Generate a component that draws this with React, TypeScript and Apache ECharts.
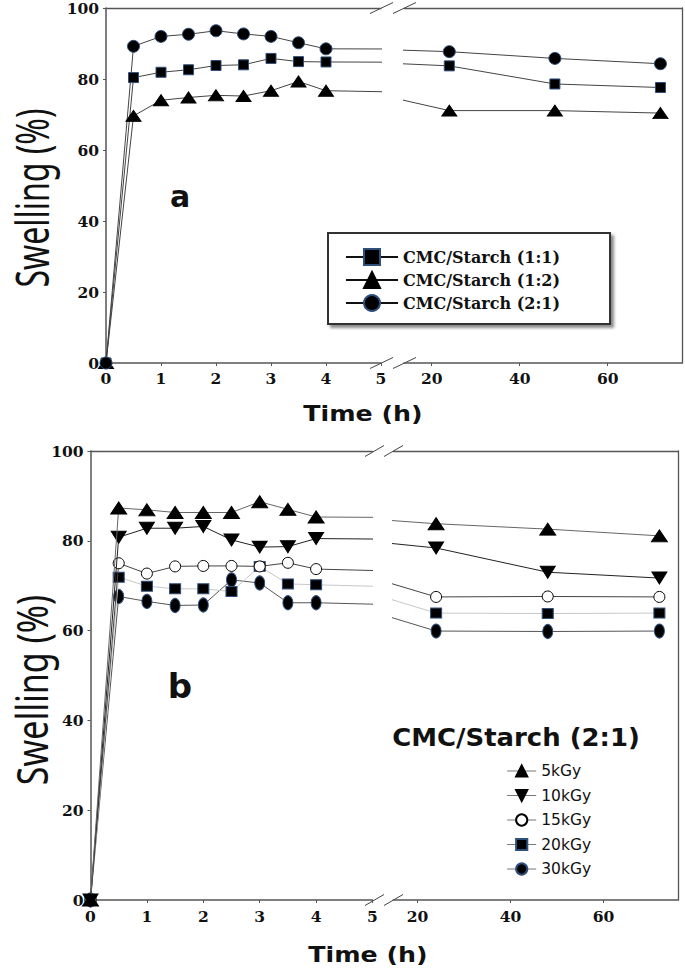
import { useEffect, useRef } from "react";
import * as echarts from "echarts";

// sampling times (h); the 4 h -> 24 h segment crosses the axis break
const hours = [0, 0.5, 1, 1.5, 2, 2.5, 3, 3.5, 4, 24, 48, 72];
const longTicks = [20, 40, 60];

// panel a
const namesA = ["CMC/Starch (1:1)", "CMC/Starch (1:2)", "CMC/Starch (2:1)"];
const ratio11 = [0, 80.4, 81.9, 82.6, 83.8, 84.0, 85.8, 84.9, 84.8, 83.7, 78.6, 77.6];
const ratio12 = [0, 69.6, 74.0, 74.8, 75.4, 75.2, 76.7, 79.3, 76.7, 71.1, 71.1, 70.4];
const ratio21 = [0, 89.2, 92.0, 92.6, 93.6, 92.7, 92.0, 90.2, 88.5, 87.7, 85.8, 84.3];

// panel b, CMC/Starch (2:1) at several doses
const namesB = ["5kGy", "10kGy", "15kGy", "20kGy", "30kGy"];
const dose5 = [0, 87.3, 86.9, 86.3, 86.3, 86.3, 88.7, 87.0, 85.3, 83.8, 82.6, 81.1];
const dose10 = [0, 80.8, 82.8, 82.8, 83.2, 80.2, 78.6, 78.7, 80.5, 78.4, 73.0, 71.7];
const dose15 = [0, 75.0, 72.7, 74.3, 74.4, 74.4, 74.3, 75.1, 73.7, 67.5, 67.6, 67.5];
const dose20 = [0, 71.9, 69.9, 69.3, 69.3, 68.7, 74.3, 70.4, 70.2, 63.9, 63.8, 63.9];
const dose30 = [0, 67.6, 66.5, 65.6, 65.7, 71.3, 70.6, 66.2, 66.2, 59.9, 59.8, 59.9];

const AXIS = "#555";
const BLUE_EDGE = "#2d4f7c";
const DOWN_TRI = "path://M0,0L10,0L5,9Z";

const tickFont = { fontFamily: "DejaVu Serif", fontWeight: "bold" as const, fontSize: 15.5, lineHeight: 12, color: "#111" };
const line = (w = 1.5) => ({ show: true, onZero: false, lineStyle: { color: AXIS, width: w } });

function bottomX(gridIndex: number, min: number, max: number, margin: number, custom?: number[]) {
  return {
    type: "value", gridIndex, min, max,
    ...(custom ? {} : { interval: 1 }),
    axisLine: line(),
    axisTick: { show: true, length: 3, lineStyle: { color: AXIS }, ...(custom ? { customValues: custom } : {}) },
    axisLabel: { ...tickFont, margin, ...(custom ? { customValues: custom } : {}) },
    splitLine: { show: false },
  };
}
function topX(gridIndex: number, min: number, max: number) {
  return {
    type: "value", gridIndex, min, max, position: "top",
    axisLine: line(1.3), axisTick: { show: false }, axisLabel: { show: false }, splitLine: { show: false },
  };
}
function leftY(gridIndex: number) {
  return {
    type: "value", gridIndex, min: 0, max: 100, interval: 20,
    axisLine: line(), axisTick: { show: true, length: 3, lineStyle: { color: AXIS } },
    axisLabel: { ...tickFont, margin: 7 }, splitLine: { show: false },
  };
}
function rightY(gridIndex: number) {
  return {
    type: "value", gridIndex, min: 0, max: 100, position: "right",
    axisLine: line(1.3), axisTick: { show: false }, axisLabel: { show: false }, splitLine: { show: false },
  };
}

const pts = (ys: number[]) => hours.map((h, i) => [h, ys[i]]);

// one curve is drawn twice: once in the short-time grid, once in the long-time grid
function curve(name: string, ys: number[], axes: [number, number], style: any) {
  return axes.map((ax) => ({
    name, type: "line", xAxisIndex: ax, yAxisIndex: ax, data: pts(ys), clip: true,
    symbol: style.symbol, symbolSize: style.size,
    lineStyle: { color: style.line, width: style.width ?? 1 },
    itemStyle: { color: style.fill, borderColor: style.edge, borderWidth: 1 },
    z: style.z ?? 2,
  }));
}

function slashes(x: number, y: number, w: number, h: number) {
  const st = { stroke: "#444", lineWidth: 1 };
  return [
    { type: "line", shape: { x1: x, y1: y + h / 2, x2: x + w, y2: y - h / 2 }, style: st },
    { type: "line", shape: { x1: x + w, y1: y + h / 2, x2: x + 2 * w, y2: y - h / 2 }, style: st },
  ];
}

export default function App() {
  const ref = useRef<HTMLDivElement>(null);

  useEffect(() => {
    if (!ref.current) return;
    const chart = echarts.init(ref.current, null, { renderer: "svg" });

    const grids = [
      { left: 106, top: 8, width: 275, height: 355 },
      { left: 404, top: 8, width: 278, height: 355 },
      { left: 90.5, top: 451, width: 282, height: 449 },
      { left: 393.3, top: 451, width: 284.7, height: 449 },
    ].map((g) => ({ ...g, outerBoundsMode: "none" }));

    const option: any = {
      animation: false,
      backgroundColor: "#fff",
      grid: grids,
      xAxis: [
        bottomX(0, 0, 5, 9), bottomX(1, 13.7, 76.9, 9, longTicks),
        bottomX(2, 0, 5, 10), bottomX(3, 14.8, 76.0, 10, longTicks),
        topX(0, 0, 5), topX(1, 13.7, 76.9), topX(2, 0, 5), topX(3, 14.8, 76.0),
      ],
      yAxis: [leftY(0), rightY(1), leftY(2), rightY(3)],
      legend: [
        {
          data: namesA, orient: "vertical", left: 328, top: 233,
          padding: [15, 50, 12, 17], itemWidth: 52, itemHeight: 20, itemGap: 5, itemTextGap: 18,
          borderColor: "#333", borderWidth: 2, backgroundColor: "#fff",
          shadowColor: "rgba(0,0,0,0.45)", shadowBlur: 3, shadowOffsetX: 3, shadowOffsetY: 3,
          lineStyle: { color: "#111", width: 2 },
          textStyle: { fontFamily: "DejaVu Serif", fontWeight: "bold", fontSize: 16, lineHeight: 18, color: "#111" },
          selectedMode: false,
        },
        {
          data: namesB, orient: "vertical", left: 506.7, top: 763,
          padding: 0, itemWidth: 29, itemHeight: 14, itemGap: 8.5, itemTextGap: 8,
          lineStyle: { color: "#777", width: 1 },
          textStyle: { fontFamily: "DejaVu Sans", fontSize: 15.5, lineHeight: 14, color: "#111" },
          selectedMode: false,
        },
      ],
      series: [
        ...curve(namesA[0], ratio11, [0, 1], { symbol: "rect", size: 10, line: "#444", fill: "#000", edge: BLUE_EDGE }),
        ...curve(namesA[1], ratio12, [0, 1], { symbol: "triangle", size: [15, 11], line: "#444", fill: "#000", edge: "#000" }),
        ...curve(namesA[2], ratio21, [0, 1], { symbol: "circle", size: 12, line: "#444", fill: "#000", edge: BLUE_EDGE }),
        ...curve(namesB[0], dose5, [2, 3], { symbol: "triangle", size: [16, 12], line: "#666", fill: "#000", edge: "#000", z: 6 }),
        ...curve(namesB[1], dose10, [2, 3], { symbol: DOWN_TRI, size: [15, 12], line: "#222", fill: "#000", edge: "#000", z: 5 }),
        ...curve(namesB[2], dose15, [2, 3], { symbol: "circle", size: 11, line: "#444", fill: "#fff", edge: "#000", z: 4 }),
        ...curve(namesB[3], dose20, [2, 3], { symbol: "rect", size: [11, 10], line: "#c8c8c8", fill: "#000", edge: BLUE_EDGE, z: 3 }),
        ...curve(namesB[4], dose30, [2, 3], { symbol: "circle", size: [10, 14], line: "#555", fill: "#000", edge: BLUE_EDGE, z: 2 }),
      ],
      graphic: [
        ...slashes(370, 363, 23, 11), ...slashes(370, 8, 23, 11),
        ...slashes(365, 900, 19, 11), ...slashes(365, 451, 19, 11),
        {
          type: "text", x: 180, y: 196,
          style: { text: "a", fontFamily: "DejaVu Sans", fontWeight: "bold", fontSize: 30, fill: "#111", align: "center", verticalAlign: "middle" },
        },
        {
          type: "text", x: 180, y: 686,
          style: { text: "b", fontFamily: "DejaVu Sans", fontWeight: "bold", fontSize: 34, fill: "#111", align: "center", verticalAlign: "middle" },
        },
        {
          type: "text", x: 363, y: 414, scaleX: 1.15,
          style: { text: "Time (h)", fontFamily: "DejaVu Sans", fontWeight: "bold", fontSize: 22, fill: "#111", align: "center", verticalAlign: "middle" },
        },
        {
          type: "text", x: 368, y: 955, scaleX: 1.15,
          style: { text: "Time (h)", fontFamily: "DejaVu Sans", fontWeight: "bold", fontSize: 22, fill: "#111", align: "center", verticalAlign: "middle" },
        },
        {
          type: "text", x: 31, y: 198, rotation: Math.PI / 2, scaleY: 1.4,
          style: { text: "Swelling (%)", fontFamily: "Noto Sans", fontSize: 32, lineHeight: 26, fill: "#111", align: "center", verticalAlign: "middle" },
        },
        {
          type: "text", x: 31, y: 690, rotation: Math.PI / 2, scaleY: 1.3,
          style: { text: "Swelling (%)", fontFamily: "Noto Sans", fontSize: 34, lineHeight: 28, fill: "#111", align: "center", verticalAlign: "middle" },
        },
        {
          type: "text", x: 516, y: 738, scaleX: 1.08,
          style: { text: "CMC/Starch (2:1)", fontFamily: "DejaVu Sans", fontWeight: "bold", fontSize: 24, fill: "#111", align: "center", verticalAlign: "middle" },
        },
      ],
    };

    chart.setOption(option);
    return () => chart.dispose();
  }, []);

  return <div ref={ref} style={{ position: "absolute", left: 0, top: 0, width: 685, height: 969 }} />;
}
